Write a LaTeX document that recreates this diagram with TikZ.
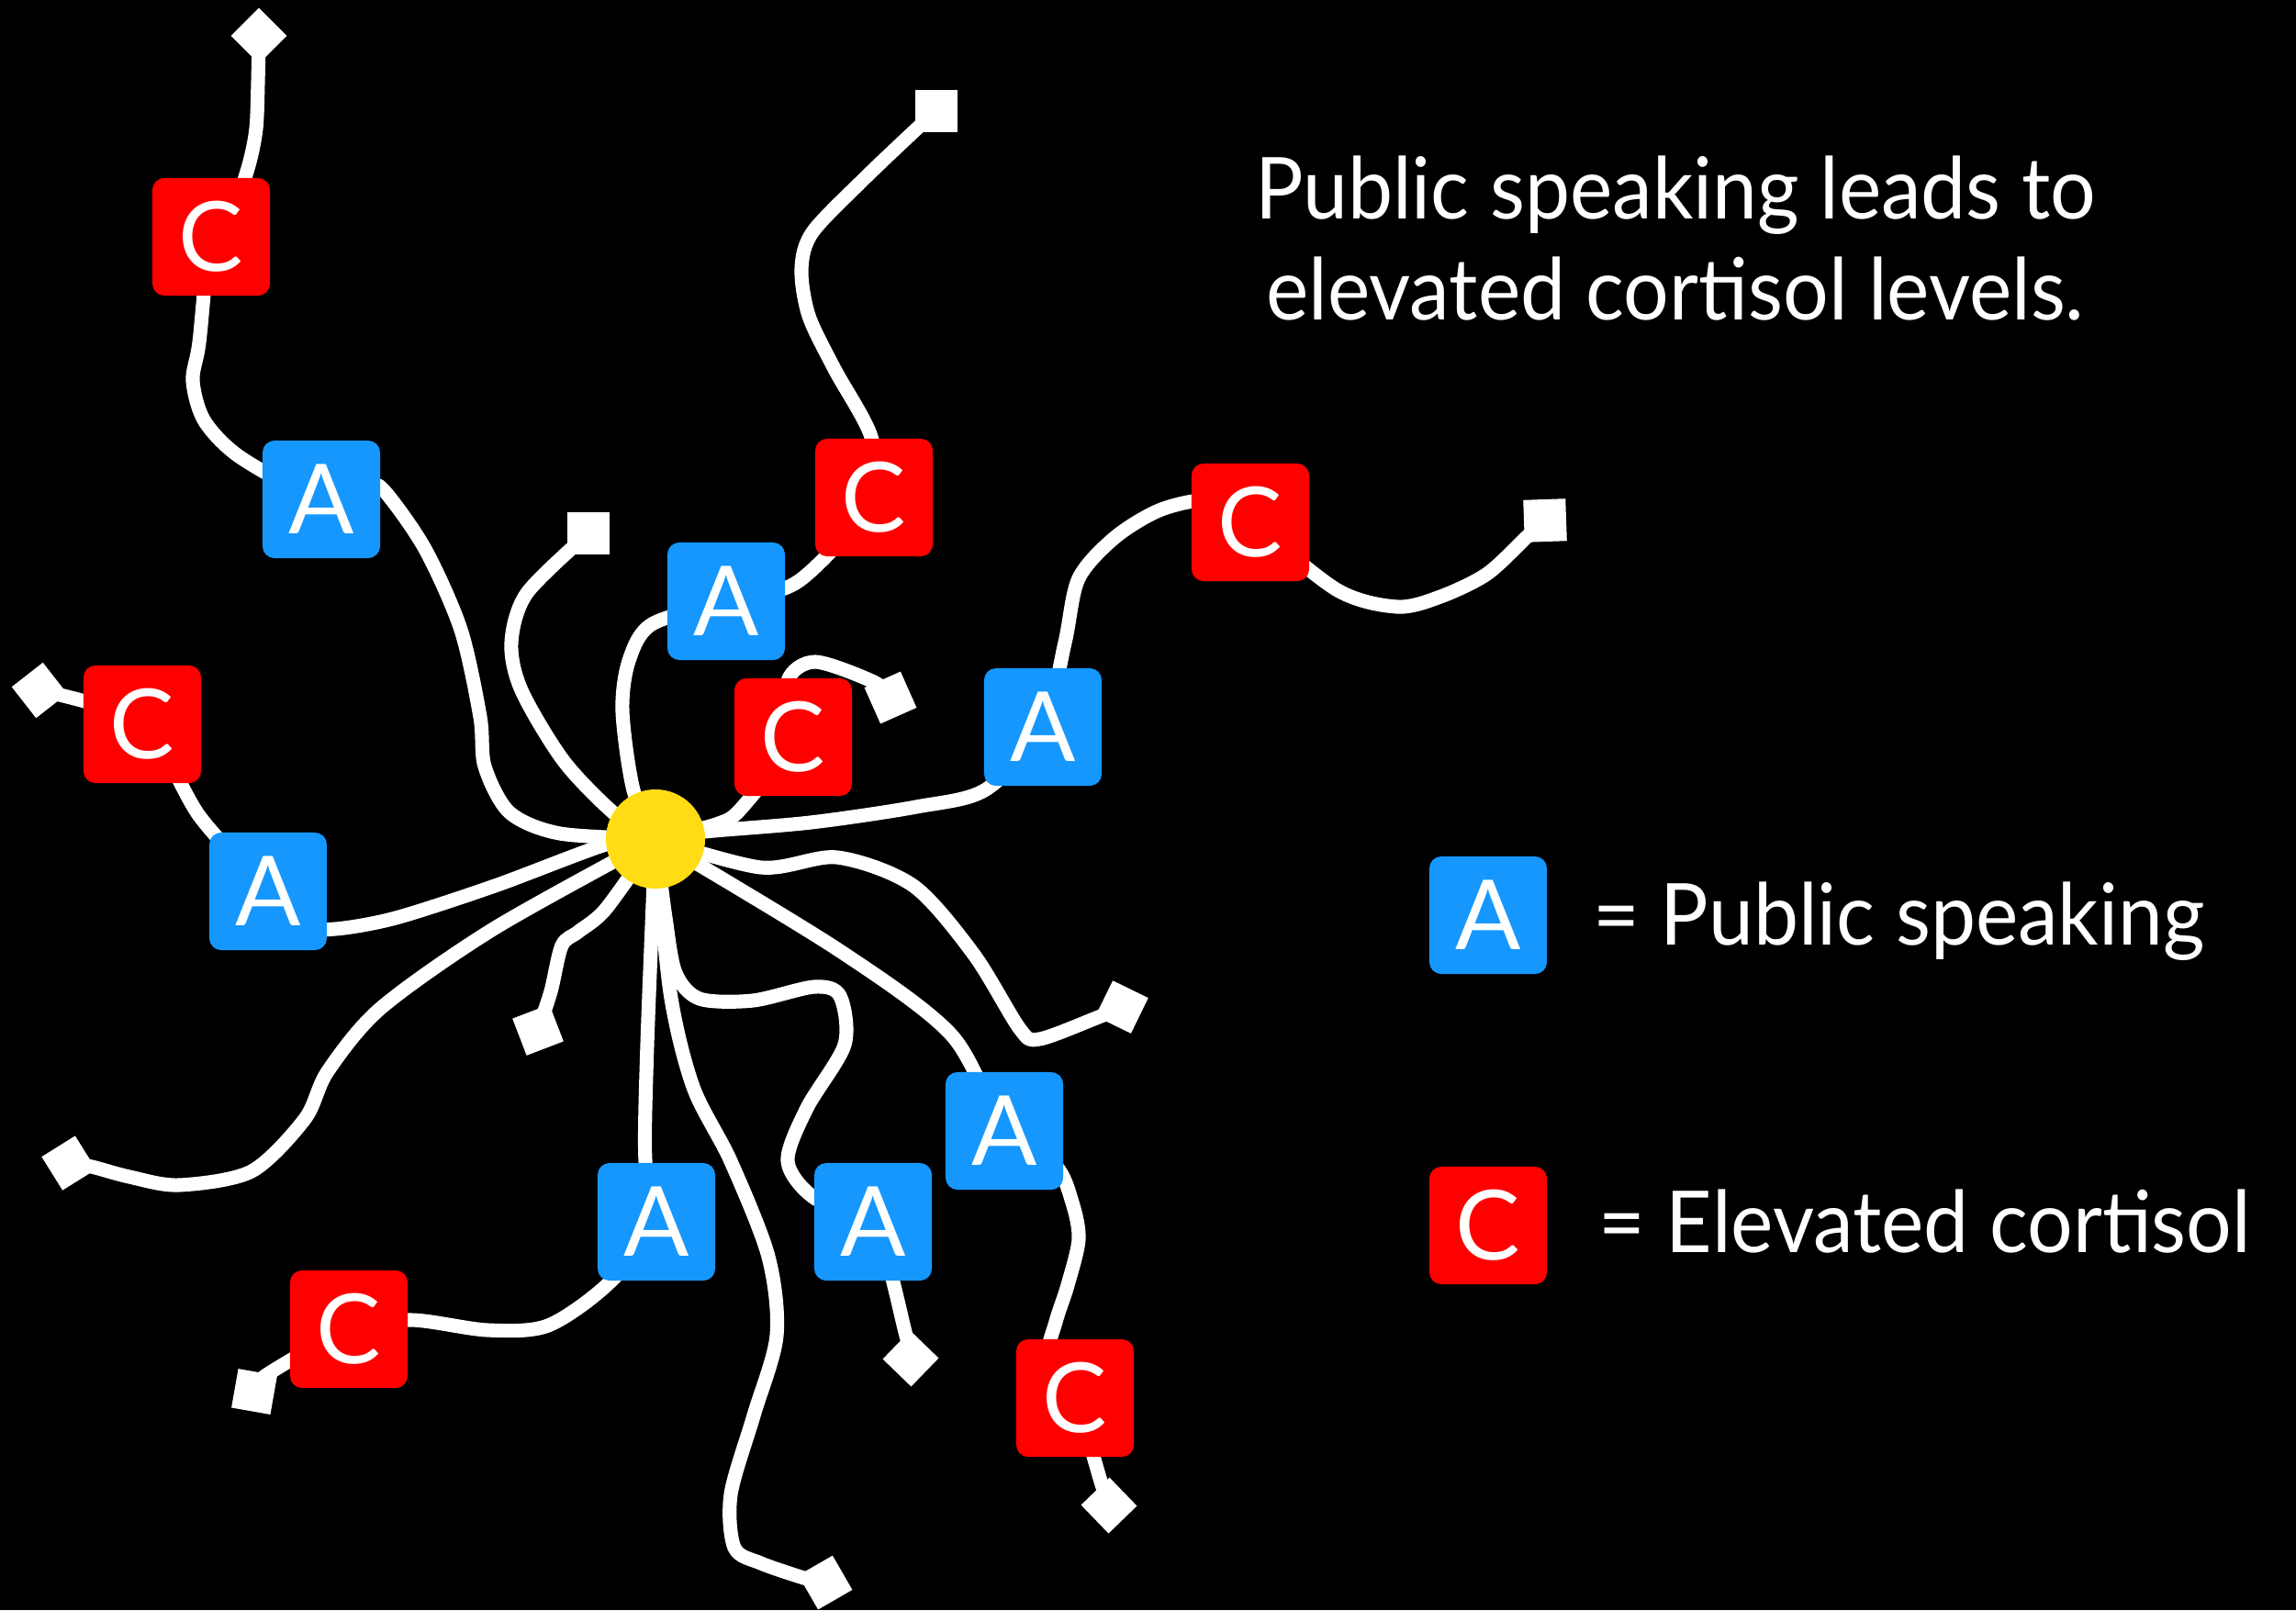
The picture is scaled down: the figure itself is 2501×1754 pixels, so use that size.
\documentclass[tikz,border=0pt]{standalone}
\usepackage{fontspec}
\setmainfont{Lato}
\newfontfamily\keyfont[FakeStretch=0.94]{Lato}
\usetikzlibrary{positioning}
\definecolor{tagblue}{RGB}{21,151,254}
\definecolor{tagred}{RGB}{255,0,0}
\definecolor{hubyellow}{RGB}{255,220,20}
\pgfdeclarelayer{bg}
\pgfdeclarelayer{wires}
\pgfsetlayers{bg,wires,main}
\tikzset{
  tag/.style  ={rounded corners=0.13cm, minimum size=1.28cm, inner sep=0pt, text=white, font=\fontsize{30}{30}\selectfont},
  abox/.style ={tag, fill=tagblue},
  cbox/.style ={tag, fill=tagred},
  endsq/.style={fill=white, minimum size=0.43cm, inner sep=0pt},
  hub/.style  ={circle, fill=hubyellow, minimum size=1.08cm, inner sep=0pt},
  wire/.style ={white, line width=4.3pt, line cap=round, line join=round},
  lbl/.style  ={text=white, inner sep=0pt, font=\keyfont\fontsize{26.5}{31}\selectfont},
}

\begin{document}
\begin{tikzpicture}[x=0.01cm, y=-0.01cm]
  \useasboundingbox (0,0) rectangle (2501,1754);
  \begin{pgfonlayer}{bg}
    \fill[black] (0,0) rectangle (2501,1754);
  \end{pgfonlayer}

  % the centre and the tags
  \node[hub] (hub) at (714,914) {};
  \node[cbox] (c1) at (230,258) {C};
  \node[abox] (a1) at (350,544) {A};
  \node[cbox] (c2) at (155,789) {C};
  \node[abox] (a2) at (292,971) {A};
  \node[cbox] (c3) at (952,542) {C};
  \node[abox] (a3) at (791,655) {A};
  \node[cbox] (c4) at (864,803) {C};
  \node[abox] (a4) at (1136,792) {A};
  \node[cbox] (c5) at (1362,569) {C};
  \node[abox] (a5) at (1094,1232) {A};
  \node[abox] (a6) at (715,1331) {A};
  \node[abox] (a7) at (951,1331) {A};
  \node[cbox] (c6) at (380,1448) {C};
  \node[cbox] (c7) at (1171,1523) {C};

  % loose ends
  \node[endsq, rotate=45] (e1) at (282,39) {};
  \node[endsq, minimum size=0.46cm] (e2) at (1020,121) {};
  \node[endsq, minimum size=0.46cm] (e3) at (641,581) {};
  \node[endsq, minimum size=0.46cm, rotate=2] (e4) at (1683,567) {};
  \node[endsq, rotate=38] (e5) at (43,752) {};
  \node[endsq, rotate=24] (e6) at (970,760) {};
  \node[endsq, rotate=-26] (e7) at (1222,1097) {};
  \node[endsq, rotate=21] (e8) at (586,1122) {};
  \node[endsq, rotate=32] (e9) at (75,1267) {};
  \node[endsq, rotate=-10] (e10) at (277,1516) {};
  \node[endsq, rotate=46] (e11) at (992,1480) {};
  \node[endsq, rotate=44] (e12) at (1208,1640) {};
  \node[endsq, rotate=30] (e13) at (899,1724) {};

  \begin{pgfonlayer}{wires}
    \draw[wire] plot[smooth] coordinates {(e1) (281,90) (279,140) (271,180) (255,225) (c1) (217,373) (210,415) (223,459) (263,499) (a1) (400,530) (418,534) (463,598) (502,686) (523,781) (528,835) (555,885) (610,908) (hub)};
    \draw[wire] plot[smooth] coordinates {(e3) (574,646) (557,700) (568,752) (614,829) (670,887) (hub)};
    \draw[wire] plot[smooth] coordinates {(hub) (690,861) (678,775) (685,720) (710,680) (a3) (870,633) (c3) (949,476) (909,402) (881,344) (873,293) (885,253) (941,195) (1001,138) (e2)};
    \draw[wire] plot[smooth] coordinates {(hub) (780,898) (808,880) (c4) (858,742) (888,721) (952,743) (e6)};
    \draw[wire] plot[smooth] coordinates {(hub) (767,906) (883,896) (998,879) (1074,860) (a4) (1160,700) (1175,630) (1215,585) (1265,555) (1320,545) (c5) (1457,643) (1522,661) (1569,650) (1620,625) (1665,583) (e4)};
    \draw[wire] plot[smooth] coordinates {(hub) (663,919) (539,965) (431,1000) (365,1012) (330,1008) (a2) (218,890) (c2) (e5)};
    \draw[wire] plot[smooth] coordinates {(hub) (539,1011) (415,1098) (357,1167) (332,1219) (274,1276) (195,1291) (141,1282) (100,1271) (e9)};
    \draw[wire] plot[smooth] coordinates {(hub) (660,990) (630,1015) (612,1030) (600,1080) (e8)};
    \draw[wire] plot[smooth] coordinates {(hub) (705,1138) (703,1265) (a6) (663,1398) (597,1444) (531,1449) (448,1438) (c6) (290,1498) (e10)};
    \draw[wire] plot[smooth] coordinates {(hub) (730,1081) (755,1184) (796,1265) (837,1369) (846,1455) (821,1542) (796,1628) (800,1686) (829,1703) (879,1720) (e13)};
    \draw[wire] plot[smooth] coordinates {(hub) (725,1000) (736,1060) (762,1088) (820,1090) (887,1075) (915,1085) (920,1138) (879,1207) (858,1265) (887,1305) (a7) (987,1455) (e11)};
    \draw[wire] plot[smooth] coordinates {(hub) (912,1034) (1036,1127) (a5) (1150,1270) (1168,1310) (1175,1350) (1163,1400) (1150,1440) (1142,1480) (c7) (1200,1617) (e12)};
    \draw[wire] plot[smooth] coordinates {(hub) (829,945) (912,934) (995,965) (1061,1040) (1111,1121) (1132,1132) (1194,1109) (e7)};
  \end{pgfonlayer}

  % title and key
  \node[lbl, align=center, anchor=base] (title) at (1825,348) {Public speaking leads to\\elevated cortisol levels.};
  \node[abox] (keya) at (1621,997) {A};
  \node[cbox] (keyc) at (1621,1335) {C};
  \node[lbl, anchor=base west] (keyatxt) at (1735,1029) {= Public speaking};
  \node[lbl, anchor=base west] (keyctxt) at (1741,1364) {= Elevated cortisol};
\end{tikzpicture}
\end{document}
